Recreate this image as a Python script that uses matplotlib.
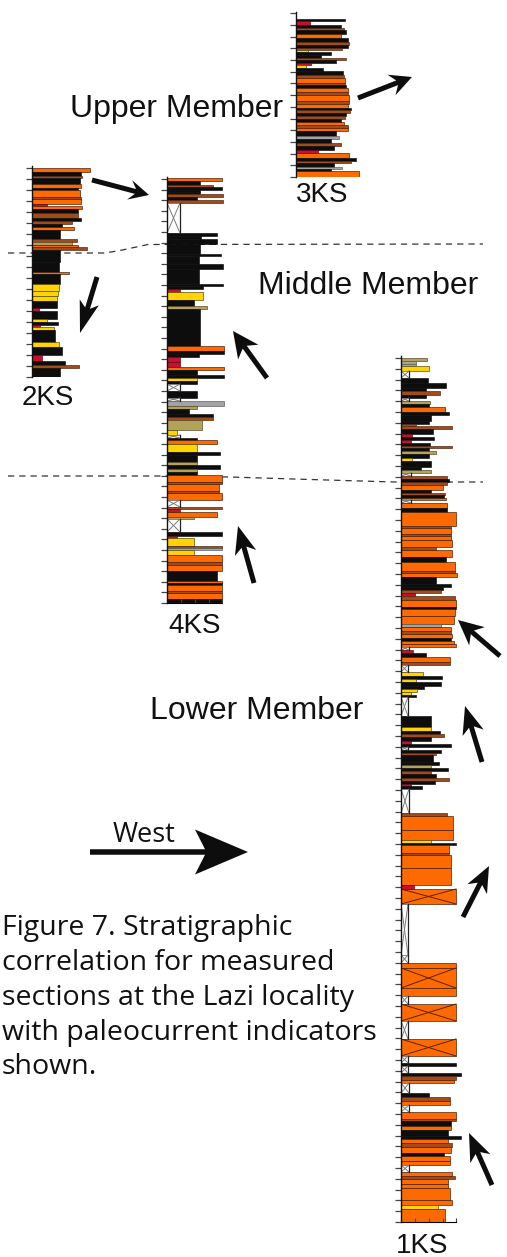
import numpy as np
import matplotlib
matplotlib.use("Agg")
import matplotlib.pyplot as plt
from matplotlib.patches import Polygon
from matplotlib.ticker import MultipleLocator

W, H, DPI = 507, 1257, 100

# ---------------------------------------------------------------------------
# Measured sections: beds listed from the top of each section downward.
# thickness in m, grain = grain-size class (bar width), lith = one code per bed
#   O sandstone (orange)  K mudstone (black)  B siltstone (brown)
#   Y tuffaceous (yellow) R red mudstone      G grey       T olive
#   X covered interval    Q covered sandstone
# ---------------------------------------------------------------------------
thk_3ks = [2, 4, 3, 2, 4, 4, 4, 3, 3, 2, 2, 3, 3, 2, 3, 2, 3, 3, 4, 3,
           5, 2, 3, 4, 3, 6, 3, 4, 2, 3, 3, 3, 3, 3, 3, 3, 5, 3, 4, 3,
           4, 3, 5, 3, 2, 4, 2, 2, 6]
grain_3ks = [4.9, 1.4, 4.5, 4.8, 5.0, 4.5, 5.2, 5.3, 5.2, 4.6, 1.2, 3.5, 2.5, 5.0, 4.0,
             1.5, 1.0, 2.7, 4.7, 4.8, 4.9, 4.9, 5.0, 5.2, 5.2, 5.3, 5.3, 5.2, 5.5, 5.4,
             5.0, 4.9, 4.5, 4.8, 5.2, 5.2, 4.0, 4.3, 3.5, 4.5, 3.8, 2.2, 5.3, 6.0, 5.5,
             3.8, 4.6, 3.5, 6.3]
lith_3ks = "KRKBKOKBKB" "YKKBKRYKKB" "OBKOBOBOKB" "KBKOBOKGKB" "KROKBKGKO"

thk_2ks = [4, 4, 2, 6, 4, 2, 7, 2, 5, 2, 3, 4, 5, 3, 3, 3, 3, 9, 3, 3,
           2, 3, 12, 10, 2, 10, 7, 5, 5, 7, 3, 8, 3, 3, 2, 3, 12, 5, 8, 6,
           4, 3, 9]
grain_2ks = [5.8, 4.9, 5.0, 4.8, 4.9, 4.6, 4.8, 4.9, 4.9, 1.5, 5.0, 4.6, 4.6, 4.9, 4.0,
             3.0, 4.2, 2.8, 4.5, 4.0, 4.6, 5.5, 2.8, 2.7, 3.7, 2.8, 2.7, 2.6, 2.5, 2.5,
             0.7, 2.5, 1.5, 2.6, 0.8, 2.2, 2.3, 2.7, 3.0, 1.0, 3.3, 4.7, 2.8]
lith_2ks = "OKBKOKOBOR" "OKBKBKOKBT" "OBKKOKYYYK" "RKYKRYKYKR" "KBK"

thk_4ks = [3, 4, 2, 3, 2, 2, 3, 3, 3, 30, 3, 3, 5, 10, 2, 8, 5, 15, 2, 3,
           3, 8, 6, 3, 37, 5, 3, 3, 5, 5, 3, 5, 3, 3, 3, 7, 7, 3, 5, 3,
           5, 3, 3, 10,
           5, 3, 2, 4, 8, 3, 7, 3, 4, 3, 3, 7, 2, 7, 2, 7, 7, 2, 3, 5,
           2, 13, 4, 2, 8, 2, 2, 5, 7, 3, 6, 10, 2, 2, 6, 2, 6, 4]
grain_4ks = [5.5, 3.3, 4.6, 5.5, 3.3, 3.3, 5.6, 3.0, 5.6, 1.3, 5.0, 3.4, 5.0, 3.3, 5.4,
             3.2, 5.6, 3.2, 5.6, 3.6, 1.3, 3.6, 2.7, 4.0, 3.3, 5.7, 5.7, 3.2, 1.3, 1.3,
             5.7, 3.0, 5.7, 3.0, 3.0, 1.3, 3.0, 1.3, 5.7, 3.0, 2.2, 4.6, 4.6, 3.5,
             1.0, 1.3, 3.0, 5.0, 3.0, 5.3, 3.0, 3.0, 5.3, 3.0, 3.0, 5.5, 5.5, 5.2, 5.2,
             5.5, 1.3, 5.5, 1.3, 5.0, 2.7, 1.3, 5.5, 1.0, 2.7, 5.5, 5.5, 2.7, 5.5, 5.5,
             5.5, 5.0, 5.5, 5.5, 5.5, 5.5, 5.5, 5.5]
lith_4ks = ("OKBKKKBKBX" "KKKKKKKKKK" "RYKTKOKKRR" "OKKYKXKXGT" "KKBT"
            "YXKOYKKTKT" "KOBOBOXBRO" "TXKRYBGYOB" "OKOKOBOK")

thk_1ks = [3, 3, 2, 5, 7, 5, 5, 3, 4, 3, 3, 3, 3, 5, 3, 6, 3, 2, 3, 5,
           3, 3, 3, 3, 2, 3, 3, 4, 3, 6, 3, 3, 3, 3, 3, 3, 5, 3, 2, 3,
           2, 3, 5, 4, 14, 2, 6, 2, 4, 7, 3, 7, 5, 9, 2, 4, 7, 3, 3, 3,
           3, 4,
           7, 2, 7, 8, 3, 4, 3, 4, 3, 3, 3, 3, 3, 4, 5, 3, 7, 4, 3, 3,
           4, 3, 3, 3, 2, 19, 11, 4, 3, 3, 4, 3, 3, 3, 3, 2, 7, 3, 3, 3,
           3, 4, 3, 3, 2, 3, 24, 3, 14, 10,
           3, 2, 8, 2, 13, 17, 4, 15, 51, 8, 5, 20, 8, 8, 17, 18, 17, 7, 3, 7,
           3, 4,
           3, 10, 4, 4, 4, 7, 7, 2, 5, 4, 6, 3, 4, 4, 6, 3, 5, 4, 7, 4,
           3, 5, 4, 12, 5, 4, 13]
grain_1ks = [2.6, 1.5, 1.5, 2.8, 0.8, 2.7, 4.5, 2.5, 3.9, 2.5, 0.8, 2.9, 2.8, 4.4, 4.8,
             3.0, 2.8, 1.5, 5.1, 3.2, 1.1, 3.3, 1.0, 2.9, 5.1, 2.8, 3.5, 2.8, 1.1, 3.0,
             2.0, 3.0, 1.0, 4.6, 4.8, 4.6, 4.2, 3.0, 4.4, 4.3, 4.5, 1.0, 4.6, 4.6, 5.5,
             5.0, 5.0, 5.0, 5.0, 5.1, 3.5, 5.1, 4.5, 5.4, 5.4, 5.6, 3.5, 5.0, 4.2, 4.0,
             1.4, 5.4,
             5.5, 5.5, 5.4, 5.3, 4.0, 5.0, 5.0, 5.1, 5.0, 5.3, 5.5, 0.8, 1.2, 2.5, 4.9,
             4.9, 0.7, 2.2, 4.1, 1.5, 4.0, 2.3, 1.6, 1.0, 1.5, 0.7, 3.0, 3.0, 3.9, 4.3,
             3.0, 1.0, 5.0, 0.7, 4.0, 3.5, 3.2, 3.8, 3.0, 4.7, 3.0, 3.5, 4.8, 3.4, 1.0,
             2.1, 0.8, 4.6, 5.2, 5.2,
             3.0, 5.5, 4.8, 4.8, 5.0, 5.0, 1.3, 5.5, 0.7, 0.7, 5.5, 5.5, 5.5, 0.7, 5.5,
             0.7, 5.5, 0.7, 5.5, 0.7, 6.0, 5.5,
             5.3, 0.8, 2.8, 4.9, 4.9, 0.8, 5.5, 5.5, 5.0, 5.0, 4.7, 6.0, 4.7, 5.1, 5.0,
             4.3, 4.9, 4.9, 0.8, 5.1, 5.4, 4.7, 4.7, 4.9, 5.1, 3.7, 4.4]
lith_1ks = ("TGGYXKKKBK" "XTKOKKKBBK" "RKRKBKTKYK" "KTXBKBOKBK" "OXOKOBOBOO"
            "BOKOBOKKKB" "RB"
            "OKOOGOBOKO" "OXRKOBXYKY" "KKYYKXKYKB" "KRKXKBKKTK" "BKBKRKXBOO"
            "YKOBOORQXXOQOXQXQXKXKB"
            "OXKBOXOBKOKKOBOKOOXOBOOOOYO")

section_names = ["3KS", "2KS", "4KS", "1KS"]

# lithology -> (fill, edge)
LITH = {
    "O": ("#ff6a00", "#3a1500"),
    "K": ("#0d0d0d", "#0d0d0d"),
    "B": ("#a14a1c", "#4a1e08"),
    "Y": ("#ffd400", "#4a4000"),
    "R": ("#c8102e", "#5a0010"),
    "G": ("#a3a3a3", "#555555"),
    "T": ("#b3a25a", "#4a4020"),
    "X": ("#ffffff", "#6a6a6a"),
    "Q": ("#ff6a00", "#3a1500"),
}

fig = plt.figure(figsize=(W / DPI, H / DPI), dpi=DPI)
fig.patch.set_facecolor("white")

# overlay in pixel space for labels, correlation lines and paleocurrent arrows
ov = fig.add_axes([0, 0, 1, 1], zorder=0)
ov.set_xlim(0, W)
ov.set_ylim(H, 0)
ov.axis("off")


def draw_section(x_px, base_px, thk, grain, lith, headroom, tick_m, grain_ticks):
    thk = np.asarray(thk, float)
    grain = np.asarray(grain, float)
    total = thk.sum()
    top_lim = total + headroom
    ax = fig.add_axes([x_px / W, 1 - base_px / H, 68 / W, top_lim / H], zorder=2)
    ax.patch.set_visible(False)
    ax.set_xlim(0, 6.8)
    ax.set_ylim(0, top_lim)
    tops = total - np.concatenate([[0.0], np.cumsum(thk)[:-1]])
    bases = tops - thk
    for b, t, w, code in zip(bases, thk, grain, lith):
        fill, edge = LITH[code]
        ax.barh(b, w, height=t, left=0, align="edge", color=fill,
                edgecolor=edge, linewidth=0.45)
        if code in "XQ":
            lc = "#7a7a7a" if code == "X" else "#5a2000"
            ax.plot([0, w], [b, b + t], color=lc, lw=0.7)
            ax.plot([0, w], [b + t, b], color=lc, lw=0.7)
            if code == "X":
                ax.plot([w, w], [b, b + t], color="#222222", lw=0.9)
    for s in ("top", "right"):
        ax.spines[s].set_visible(False)
    ax.spines["left"].set_linewidth(1.0)
    ax.spines["left"].set_color("#111111")
    ax.yaxis.set_major_locator(MultipleLocator(tick_m))
    ax.tick_params(axis="y", direction="out", length=4.5, width=0.9,
                   colors="#444444", labelleft=False)
    if grain_ticks:
        ax.spines["bottom"].set_bounds(0, grain_ticks[-1])
        ax.spines["bottom"].set_linewidth(0.8)
        ax.set_xticks(grain_ticks)
        ax.tick_params(axis="x", direction="in", length=3, width=0.8,
                       colors="#444444", labelbottom=False)
    else:
        ax.spines["bottom"].set_visible(False)
        ax.set_xticks([])
    return ax


gt = [0, 1.4, 2.8, 4.2, 5.5]
draw_section(296, 177, thk_3ks, grain_3ks, lith_3ks, 7, 11.7, None)
draw_section(32, 377, thk_2ks, grain_2ks, lith_2ks, 2, 11.0, None)
draw_section(167, 603, thk_4ks, grain_4ks, lith_4ks, 1, 10.6, gt)
draw_section(401, 1222, thk_1ks, grain_1ks, lith_1ks, 2, 10.8, gt)

# section names
label_font = dict(family="Liberation Sans", fontsize=20, color="#111111",
                  ha="center", va="baseline")
for name, (cx, by) in zip(section_names,
                          [(322, 202), (48, 405), (195, 633), (422, 1253)]):
    ov.text(cx, by, name, **label_font)

# member names
member_font = dict(family="Liberation Sans", fontsize=23, color="#111111",
                   ha="left", va="baseline")
ov.text(70, 117, "Upper Member", **member_font)
ov.text(258, 294, "Middle Member", **member_font)
ov.text(150, 719, "Lower Member", **member_font)

# member boundaries
dash = dict(color="#333333", lw=0.9, ls=(0, (5, 4)))
ov.plot([8, 105, 120, 148, 483], [253, 253, 250.5, 244.5, 244], **dash)
ov.plot([8, 165, 230, 310, 395, 483], [476, 476, 477, 479.5, 482, 482], **dash)


def arrow(tail, tip, shaft=5.0, head_len=24, head_w=24, notch=6):
    tail = np.asarray(tail, float)
    tip = np.asarray(tip, float)
    d = tip - tail
    u = d / np.hypot(*d)
    n = np.array([-u[1], u[0]])
    barb = tip - u * head_len
    neck = barb + u * notch
    pts = [tail + n * shaft / 2, neck + n * shaft / 2, barb + n * head_w / 2, tip,
           barb - n * head_w / 2, neck - n * shaft / 2, tail - n * shaft / 2]
    ov.add_patch(Polygon(pts, closed=True, facecolor="#0d0d0d", edgecolor="none"))


# paleocurrent indicators
arrow((92, 180), (149, 195), head_len=20, head_w=20)
arrow((358, 98), (412, 77), head_len=22, head_w=22)
arrow((97, 277), (80, 333), head_len=32, head_w=20)
arrow((267, 378), (233, 331), head_len=26, head_w=25)
arrow((254, 583), (238, 526), head_len=28, head_w=22)
arrow((500, 656), (458, 620), head_len=25, head_w=24)
arrow((482, 762), (465, 706), head_len=28, head_w=22)
arrow((463, 917), (489, 866), head_len=26, head_w=22)
arrow((492, 1185), (469, 1133), head_len=28, head_w=22)
# transport direction
arrow((90, 852), (248, 852), shaft=5.5, head_len=53, head_w=45, notch=10)
ov.text(113, 842, "West", family="Open Sans", fontsize=19.5, color="#111111",
        ha="left", va="baseline")

caption = ["Figure 7. Stratigraphic",
           "correlation for measured",
           "sections at the Lazi locality",
           "with paleocurrent indicators",
           "shown."]
for line, by in zip(caption, [935, 970, 1005, 1040, 1074]):
    ov.text(2, by, line, family="Open Sans", fontsize=20.5, color="#111111",
            ha="left", va="baseline")

fig.savefig("out.png", dpi=DPI, facecolor="white")
